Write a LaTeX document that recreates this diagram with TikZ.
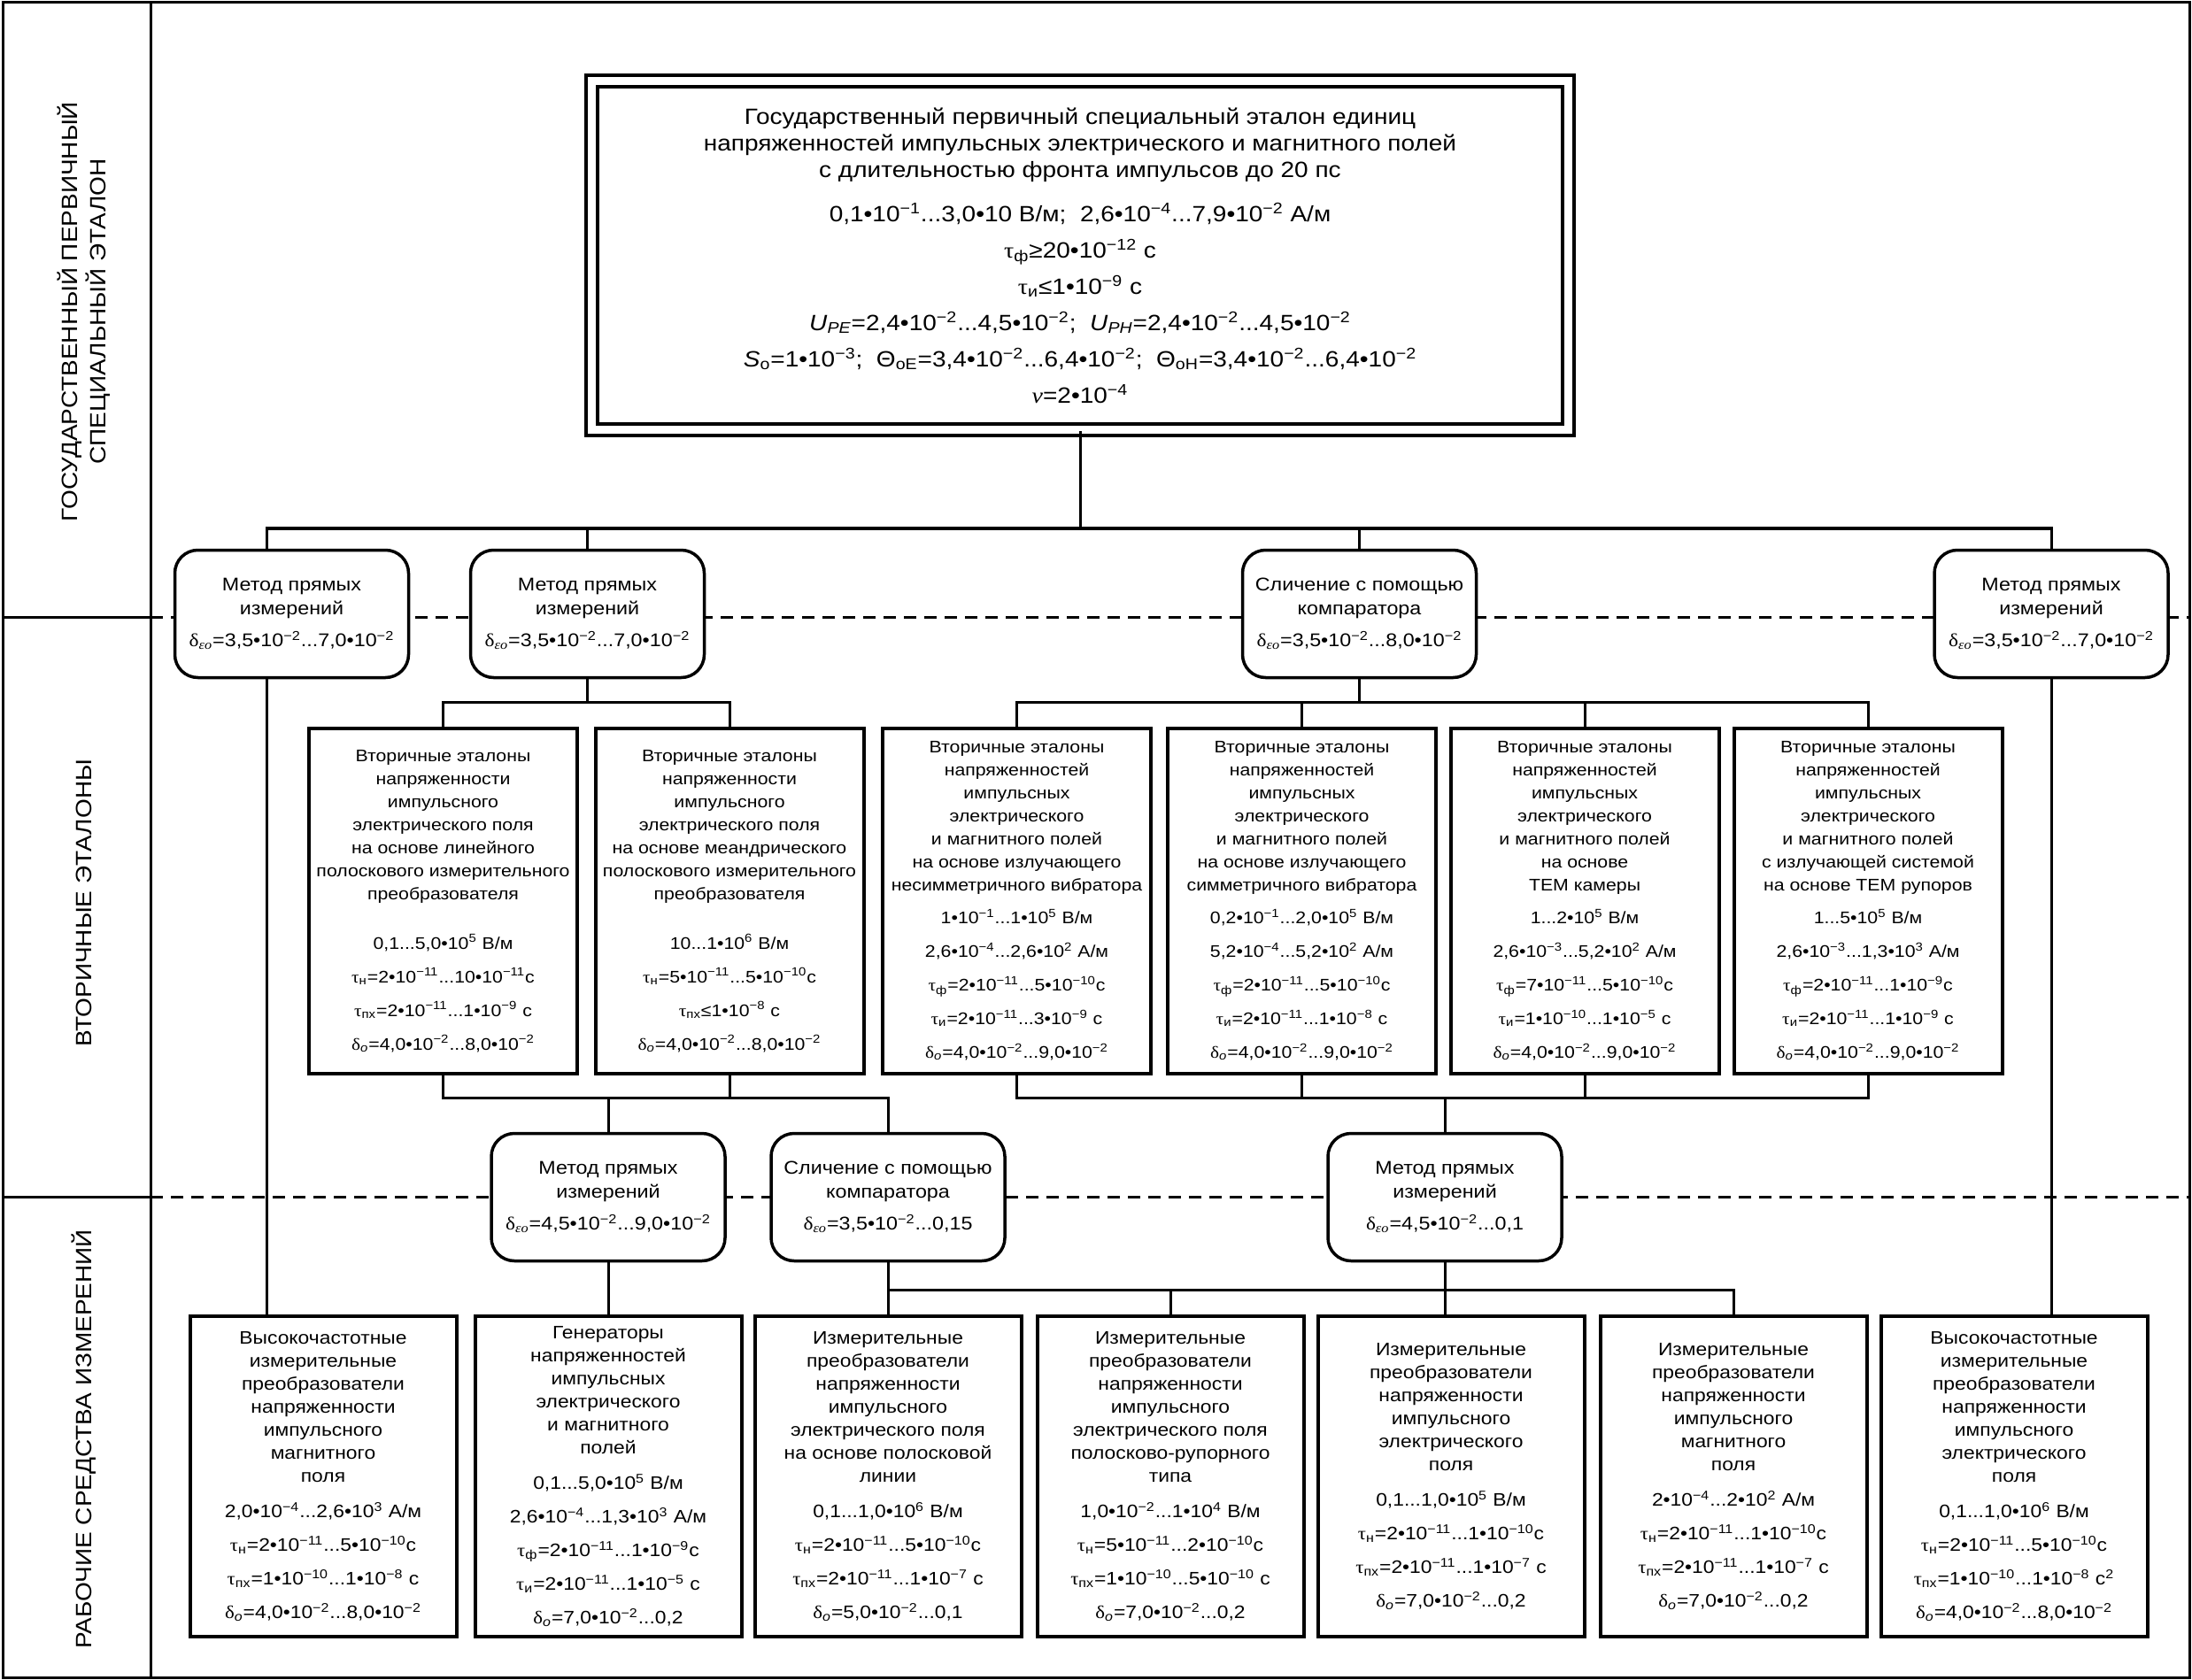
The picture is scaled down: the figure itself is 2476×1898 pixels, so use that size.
\documentclass[tikz,border=0pt]{standalone}
\usepackage{fontspec}
\setmainfont[FakeStretch=1.12]{Liberation Sans}
\newfontfamily\gr[FakeStretch=1.12]{Liberation Serif}
\newcommand\sP[1]{\textsuperscript{#1}}
\newcommand\sB[1]{\textsubscript{#1}}
\newcommand\tauH{{\gr τ}\sB{н}}
\newcommand\tauPX{{\gr τ}\sB{пх}}
\newcommand\tauF{{\gr τ}\sB{ф}}
\newcommand\tauI{{\gr τ}\sB{и}}
\newcommand\delO{{\gr δ}\sB{\itshape о}}
\newcommand\delEO{{\gr δ}\sB{\gr\itshape εо}}
\tikzset{
  frame/.style={line width=1.5pt},
  conn/.style={line width=1.5pt},
  dashln/.style={line width=1.5pt, dash pattern=on 7pt off 4.5pt},
  topbox/.style={draw, double, line width=2pt, double distance=4.5pt, fill=white, align=center, inner sep=0pt,
    minimum width=551.5pt, minimum height=197pt, font=\fontsize{12.5}{15}\selectfont},
  sbox/.style={draw, line width=2pt, fill=white, align=center, inner sep=0pt,
    minimum width=151.5pt, minimum height=195pt, font=\fontsize{9.5}{13}\selectfont},
  bbox/.style={draw, line width=2pt, fill=white, align=center, inner sep=0pt,
    minimum width=150.5pt, minimum height=181pt, font=\fontsize{10.2}{13}\selectfont},
  mbox/.style={draw, line width=1.75pt, rounded corners=13pt, fill=white, align=center, inner sep=0pt,
    minimum width=132pt, minimum height=72pt, font=\fontsize{10.4}{13.5}\selectfont},
  lbl/.style={rotate=90, align=center, inner sep=0pt, font=\fontsize{12.5}{16}\selectfont},
}
\begin{document}
\begin{tikzpicture}[x=0.5pt,y=-0.5pt]
\fill[white] (0,0) rectangle (2476,1898);
\useasboundingbox (0,0) rectangle (2476,1898);

% frame
\draw[frame] (3,3) rectangle (2473,1895);
\draw[frame] (170,3) -- (170,1895);
\draw[frame] (3,697) -- (170,697);
\draw[frame] (3,1352) -- (170,1352);

% dashed level lines
\coordinate (d1a) at (170,697);  \coordinate (d1b) at (2473,697);
\coordinate (d2a) at (170,1352); \coordinate (d2b) at (2473,1352);
\draw[dashln] (d1a) -- (d1b);
\draw[dashln] (d2a) -- (d2b);

% row labels
\node[lbl] (r1) at (95,352) {ГОСУДАРСТВЕННЫЙ ПЕРВИЧНЫЙ\\СПЕЦИАЛЬНЫЙ ЭТАЛОН};
\node[lbl] (r2) at (95,1020) {ВТОРИЧНЫЕ ЭТАЛОНЫ};
\node[lbl] (r3) at (95,1626) {РАБОЧИЕ СРЕДСТВА ИЗМЕРЕНИЙ};

% top box
\node[topbox] (top) at (1220,288.5) {Государственный первичный специальный эталон единиц\\
напряженностей импульсных электрического и магнитного полей\\
с длительностью фронта импульсов до 20 пс\\[10pt]
0,1•10\sP{−1}...3,0•10 В/м;\ \ 2,6•10\sP{−4}...7,9•10\sP{−2} А/м\\[5.5pt]
\tauF≥20•10\sP{−12} с\\[5.5pt]
\tauI≤1•10\sP{−9} с\\[5.5pt]
\textit{U}\sB{\itshape PE}=2,4•10\sP{−2}...4,5•10\sP{−2};\ \ \textit{U}\sB{\itshape PH}=2,4•10\sP{−2}...4,5•10\sP{−2}\\[5.5pt]
\textit{S}\sB{о}=1•10\sP{−3};\ \ Θ\sB{оE}=3,4•10\sP{−2}...6,4•10\sP{−2};\ \ Θ\sB{оH}=3,4•10\sP{−2}...6,4•10\sP{−2}\\[5.5pt]
{\gr\itshape ν}=2•10\sP{−4}};

% method boxes, level 1
\node[mbox] (m1) at (329.5,693.5) {Метод прямых\\измерений\\[4.5pt]\delEO=3,5•10\sP{−2}...7,0•10\sP{−2}};
\node[mbox] (m2) at (663.5,693.5) {Метод прямых\\измерений\\[4.5pt]\delEO=3,5•10\sP{−2}...7,0•10\sP{−2}};
\node[mbox] (c1) at (1535.5,693.5) {Сличение с помощью\\компаратора\\[4.5pt]\delEO=3,5•10\sP{−2}...8,0•10\sP{−2}};
\node[mbox] (m3) at (2317,693.5) {Метод прямых\\измерений\\[4.5pt]\delEO=3,5•10\sP{−2}...7,0•10\sP{−2}};

% secondary standards
\node[sbox] (s1) at (500.5,1018) {Вторичные эталоны\\напряженности\\импульсного\\электрического поля\\на основе линейного\\полоскового измерительного\\преобразователя\\[15pt]
0,1...5,0•10\sP{5} В/м\\[6pt]\tauH=2•10\sP{−11}...10•10\sP{−11}с\\[6pt]\tauPX=2•10\sP{−11}...1•10\sP{−9} с\\[6pt]\delO=4,0•10\sP{−2}...8,0•10\sP{−2}};
\node[sbox] (s2) at (824,1018) {Вторичные эталоны\\напряженности\\импульсного\\электрического поля\\на основе меандрического\\полоскового измерительного\\преобразователя\\[15pt]
10...1•10\sP{6} В/м\\[6pt]\tauH=5•10\sP{−11}...5•10\sP{−10}с\\[6pt]\tauPX≤1•10\sP{−8} с\\[6pt]\delO=4,0•10\sP{−2}...8,0•10\sP{−2}};
\node[sbox] (s3) at (1148.5,1018) {Вторичные эталоны\\напряженностей\\импульсных\\электрического\\и магнитного полей\\на основе излучающего\\несимметричного вибратора\\[5.5pt]
1•10\sP{−1}...1•10\sP{5} В/м\\[6pt]2,6•10\sP{−4}...2,6•10\sP{2} А/м\\[6pt]\tauF=2•10\sP{−11}...5•10\sP{−10}с\\[6pt]\tauI=2•10\sP{−11}...3•10\sP{−9} с\\[6pt]\delO=4,0•10\sP{−2}...9,0•10\sP{−2}};
\node[sbox] (s4) at (1470.5,1018) {Вторичные эталоны\\напряженностей\\импульсных\\электрического\\и магнитного полей\\на основе излучающего\\симметричного вибратора\\[5.5pt]
0,2•10\sP{−1}...2,0•10\sP{5} В/м\\[6pt]5,2•10\sP{−4}...5,2•10\sP{2} А/м\\[6pt]\tauF=2•10\sP{−11}...5•10\sP{−10}с\\[6pt]\tauI=2•10\sP{−11}...1•10\sP{−8} с\\[6pt]\delO=4,0•10\sP{−2}...9,0•10\sP{−2}};
\node[sbox] (s5) at (1790,1018) {Вторичные эталоны\\напряженностей\\импульсных\\электрического\\и магнитного полей\\на основе\\ТЕМ камеры\\[5.5pt]
1...2•10\sP{5} В/м\\[6pt]2,6•10\sP{−3}...5,2•10\sP{2} А/м\\[6pt]\tauF=7•10\sP{−11}...5•10\sP{−10}с\\[6pt]\tauI=1•10\sP{−10}...1•10\sP{−5} с\\[6pt]\delO=4,0•10\sP{−2}...9,0•10\sP{−2}};
\node[sbox] (s6) at (2110,1018) {Вторичные эталоны\\напряженностей\\импульсных\\электрического\\и магнитного полей\\с излучающей системой\\на основе ТЕМ рупоров\\[5.5pt]
1...5•10\sP{5} В/м\\[6pt]2,6•10\sP{−3}...1,3•10\sP{3} А/м\\[6pt]\tauF=2•10\sP{−11}...1•10\sP{−9}с\\[6pt]\tauI=2•10\sP{−11}...1•10\sP{−9} с\\[6pt]\delO=4,0•10\sP{−2}...9,0•10\sP{−2}};

% method boxes, level 2
\node[mbox] (m4) at (687,1352.5) {Метод прямых\\измерений\\[4.5pt]\delEO=4,5•10\sP{−2}...9,0•10\sP{−2}};
\node[mbox] (c2) at (1003,1352.5) {Сличение с помощью\\компаратора\\[4.5pt]\delEO=3,5•10\sP{−2}...0,15};
\node[mbox] (m5) at (1632,1352.5) {Метод прямых\\измерений\\[4.5pt]\delEO=4,5•10\sP{−2}...0,1};

% working instruments
\node[bbox] (b1) at (365,1668) {Высокочастотные\\измерительные\\преобразователи\\напряженности\\импульсного\\магнитного\\поля\\[7pt]
2,0•10\sP{−4}...2,6•10\sP{3} А/м\\[6pt]\tauH=2•10\sP{−11}...5•10\sP{−10}с\\[6pt]\tauPX=1•10\sP{−10}...1•10\sP{−8} с\\[6pt]\delO=4,0•10\sP{−2}...8,0•10\sP{−2}};
\node[bbox] (b2) at (687,1668) {Генераторы\\напряженностей\\импульсных\\электрического\\и магнитного\\полей\\[7pt]
0,1...5,0•10\sP{5} В/м\\[6pt]2,6•10\sP{−4}...1,3•10\sP{3} А/м\\[6pt]\tauF=2•10\sP{−11}...1•10\sP{−9}с\\[6pt]\tauI=2•10\sP{−11}...1•10\sP{−5} с\\[6pt]\delO=7,0•10\sP{−2}...0,2};
\node[bbox] (b3) at (1003,1668) {Измерительные\\преобразователи\\напряженности\\импульсного\\электрического поля\\на основе полосковой\\линии\\[7pt]
0,1...1,0•10\sP{6} В/м\\[6pt]\tauH=2•10\sP{−11}...5•10\sP{−10}с\\[6pt]\tauPX=2•10\sP{−11}...1•10\sP{−7} с\\[6pt]\delO=5,0•10\sP{−2}...0,1};
\node[bbox] (b4) at (1322,1668) {Измерительные\\преобразователи\\напряженности\\импульсного\\электрического поля\\полосково-рупорного\\типа\\[7pt]
1,0•10\sP{−2}...1•10\sP{4} В/м\\[6pt]\tauH=5•10\sP{−11}...2•10\sP{−10}с\\[6pt]\tauPX=1•10\sP{−10}...5•10\sP{−10} с\\[6pt]\delO=7,0•10\sP{−2}...0,2};
\node[bbox] (b5) at (1639,1668) {Измерительные\\преобразователи\\напряженности\\импульсного\\электрического\\поля\\[7pt]
0,1...1,0•10\sP{5} В/м\\[6pt]\tauH=2•10\sP{−11}...1•10\sP{−10}с\\[6pt]\tauPX=2•10\sP{−11}...1•10\sP{−7} с\\[6pt]\delO=7,0•10\sP{−2}...0,2};
\node[bbox] (b6) at (1958,1668) {Измерительные\\преобразователи\\напряженности\\импульсного\\магнитного\\поля\\[7pt]
2•10\sP{−4}...2•10\sP{2} А/м\\[6pt]\tauH=2•10\sP{−11}...1•10\sP{−10}с\\[6pt]\tauPX=2•10\sP{−11}...1•10\sP{−7} с\\[6pt]\delO=7,0•10\sP{−2}...0,2};
\node[bbox] (b7) at (2275,1668) {Высокочастотные\\измерительные\\преобразователи\\напряженности\\импульсного\\электрического\\поля\\[7pt]
0,1...1,0•10\sP{6} В/м\\[6pt]\tauH=2•10\sP{−11}...5•10\sP{−10}с\\[6pt]\tauPX=1•10\sP{−10}...1•10\sP{−8} с\sP{2}\\[6pt]\delO=4,0•10\sP{−2}...8,0•10\sP{−2}};

% levels of the connector buses
\coordinate (L1) at (0,597);
\coordinate (L2) at (0,793);
\coordinate (L3) at (0,1240);
\coordinate (L4) at (0,1457);
\coordinate (xm1) at (301,0);

% top -> level 1
\draw[conn] (top.south) -- (top.south |- L1);
\draw[conn] (xm1 |- m1.north) -- (xm1 |- L1) -- (m3.north |- L1) -- (m3.north);
\draw[conn] (m2.north |- L1) -- (m2.north);
\draw[conn] (c1.north |- L1) -- (c1.north);

% level 1 -> secondary
\draw[conn] (m2.south) -- (m2.south |- L2);
\draw[conn] (s1.north) -- (s1.north |- L2) -- (s2.north |- L2) -- (s2.north);
\draw[conn] (c1.south) -- (c1.south |- L2);
\draw[conn] (s3.north) -- (s3.north |- L2) -- (s6.north |- L2) -- (s6.north);
\draw[conn] (s4.north |- L2) -- (s4.north);
\draw[conn] (s5.north |- L2) -- (s5.north);

% secondary -> level 2
\draw[conn] (s1.south) -- (s1.south |- L3) -- (c2.north |- L3) -- (c2.north);
\draw[conn] (s2.south) -- (s2.south |- L3);
\draw[conn] (m4.north |- L3) -- (m4.north);
\draw[conn] (s3.south) -- (s3.south |- L3) -- (s6.south |- L3) -- (s6.south);
\draw[conn] (s4.south) -- (s4.south |- L3);
\draw[conn] (s5.south) -- (s5.south |- L3);
\draw[conn] (m5.north |- L3) -- (m5.north);

% to working instruments
\draw[conn] (xm1 |- m1.south) -- (xm1 |- b1.north);
\draw[conn] (m4.south) -- (b2.north);
\draw[conn] (c2.south) -- (b3.north);
\draw[conn] (c2.south |- L4) -- (b6.north |- L4) -- (b6.north);
\draw[conn] (b4.north |- L4) -- (b4.north);
\draw[conn] (m5.south) -- (m5.south |- b5.north);
\draw[conn] (m3.south) -- (m3.south |- b7.north);
\end{tikzpicture}
\end{document}
